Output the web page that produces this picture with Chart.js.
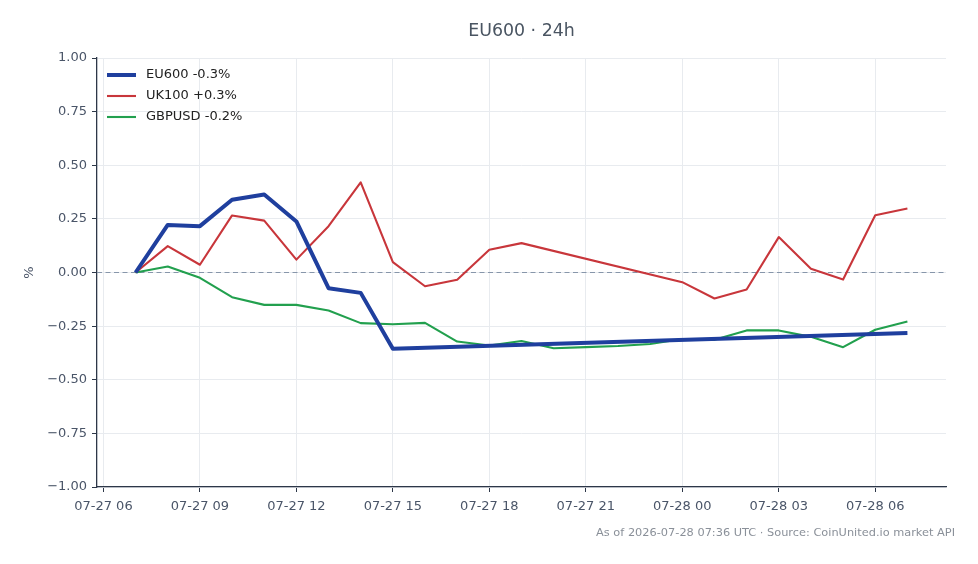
<!DOCTYPE html>
<html>
<head>
<meta charset="utf-8">
<title>EU600 · 24h</title>
<script src="https://cdn.jsdelivr.net/npm/chart.js"></script>
<style>
  html, body { margin: 0; padding: 0; background: #fff; }
  #wrap { width: 978px; height: 564px; position: relative; }
</style>
</head>
<body>
<div id="wrap"><canvas id="chart"></canvas></div>
<script>
// hours counted from 07-27 00:00 UTC
const hoursEU = [7, 8, 9, 10, 11, 12, 13, 14, 15, 31];
const valuesEU = [0, 0.222, 0.216, 0.339, 0.364, 0.238, -0.073, -0.095, -0.356, -0.282];

const hoursUK = [7, 8, 9, 10, 11, 12, 13, 14, 15, 16, 17, 18, 19, 24, 25, 26, 27, 28, 29, 30, 31];
const valuesUK = [0, 0.123, 0.036, 0.266, 0.242, 0.06, 0.216, 0.42, 0.048, -0.064, -0.034, 0.106, 0.137,
                  -0.045, -0.121, -0.079, 0.165, 0.017, -0.033, 0.267, 0.298];

const hoursGB = [7, 8, 9, 10, 11, 12, 13, 14, 15, 16, 17, 18, 19, 20, 21, 22, 23, 24, 25, 26, 27, 28, 29, 30, 31];
const valuesGB = [0, 0.028, -0.025, -0.115, -0.151, -0.151, -0.177, -0.236, -0.241, -0.235, -0.322, -0.34, -0.319,
                  -0.353, -0.348, -0.343, -0.333, -0.31, -0.314, -0.27, -0.27, -0.3, -0.348, -0.267, -0.228];

const seriesNames = ['EU600 -0.3%', 'UK100 +0.3%', 'GBPUSD -0.2%'];

const tickHours = [6, 9, 12, 15, 18, 21, 24, 27, 30];
const tickLabels = ['07-27 06', '07-27 09', '07-27 12', '07-27 15', '07-27 18', '07-27 21', '07-28 00', '07-28 03', '07-28 06'];
const yTicks = [-1, -0.75, -0.5, -0.25, 0, 0.25, 0.5, 0.75, 1];

const toPoints = (xs, ys) => xs.map((x, i) => ({ x: x, y: ys[i] }));

Chart.defaults.font.family = "'DejaVu Sans', sans-serif";
Chart.defaults.font.size = 13;
Chart.defaults.color = '#4a5568';

const axisColor = '#2d3748';
const gridColor = '#e8ebef';

// title, footer, zero line and the in-plot legend
const decor = {
    id: 'decor',
    beforeDatasetsDraw(chart) {
        const ctx = chart.ctx, area = chart.chartArea;
        const y0 = chart.scales.y.getPixelForValue(0);
        ctx.save();
        ctx.strokeStyle = '#8796aa';
        ctx.lineWidth = 1;
        ctx.setLineDash([5, 3.5]);
        ctx.beginPath();
        ctx.moveTo(area.left, y0);
        ctx.lineTo(area.right, y0);
        ctx.stroke();
        ctx.restore();
    },
    afterDraw(chart) {
        const ctx = chart.ctx, area = chart.chartArea;
        ctx.save();
        ctx.textBaseline = 'middle';
        ctx.fillStyle = '#4a5562';
        ctx.font = "17.4px 'DejaVu Sans'";
        ctx.textAlign = 'center';
        ctx.fillText('EU600 · 24h', (area.left + area.right) / 2, 31);

        ctx.fillStyle = '#8a9099';
        ctx.font = "11.35px 'DejaVu Sans'";
        ctx.textAlign = 'right';
        ctx.fillText('As of 2026-07-28 07:36 UTC · Source: CoinUnited.io market API', 955, 533);

        ctx.font = "13px 'DejaVu Sans'";
        ctx.textAlign = 'left';
        chart.data.datasets.forEach((ds, i) => {
            const y = area.top + 17 + i * 21;
            ctx.strokeStyle = ds.borderColor;
            ctx.lineWidth = ds.borderWidth;
            ctx.beginPath();
            ctx.moveTo(area.left + 10, y);
            ctx.lineTo(area.left + 39, y);
            ctx.stroke();
            ctx.fillStyle = '#222';
            ctx.fillText(ds.label, area.left + 49, y);
        });
        ctx.restore();
    }
};

const ctx = document.getElementById('chart').getContext('2d');
const chart = new Chart(ctx, {
    type: 'line',
    data: {
        datasets: [
            {
                label: seriesNames[0],
                data: toPoints(hoursEU, valuesEU),
                borderColor: '#1f3f9e',
                borderWidth: 4,
            },
            {
                label: seriesNames[1],
                data: toPoints(hoursUK, valuesUK),
                borderColor: '#c8363b',
                borderWidth: 2.1,
            },
            {
                label: seriesNames[2],
                data: toPoints(hoursGB, valuesGB),
                borderColor: '#22a04e',
                borderWidth: 2.1,
            }
        ]
    },
    options: {
        responsive: true,
        maintainAspectRatio: false,
        animation: false,
        elements: {
            point: { radius: 0 },
            line: { tension: 0, borderJoinStyle: 'round', fill: false }
        },
        layout: { padding: { left: 0, right: 32, top: 58, bottom: 0 } },
        plugins: {
            legend: { display: false },
            tooltip: { enabled: false },
            title: { display: false }
        },
        scales: {
            x: {
                type: 'linear',
                min: 5.8,
                max: 32.2,
                afterBuildTicks: (axis) => { axis.ticks = tickHours.map(v => ({ value: v })); },
                afterFit: (axis) => { axis.height = 77; },
                ticks: {
                    autoSkip: false,
                    maxRotation: 0,
                    padding: 7,
                    callback: (v, i) => tickLabels[i]
                },
                grid: { color: gridColor, tickColor: axisColor, tickLength: 5 },
                border: { color: axisColor, width: 1.3 }
            },
            y: {
                min: -1,
                max: 1,
                afterBuildTicks: (axis) => { axis.ticks = yTicks.map(v => ({ value: v })); },
                afterFit: (axis) => { axis.width = 97; },
                ticks: {
                    padding: 5,
                    callback: (v) => v.toFixed(2).replace('-', '\u2212')
                },
                title: {
                    display: true,
                    text: '%',
                    color: '#4a5568',
                    font: { size: 13 },
                    padding: { top: 22, bottom: 0 }
                },
                grid: { color: gridColor, tickColor: axisColor, tickLength: 5 },
                border: { color: axisColor, width: 1.3 }
            }
        }
    },
    plugins: [decor]
});
</script>
</body>
</html>
